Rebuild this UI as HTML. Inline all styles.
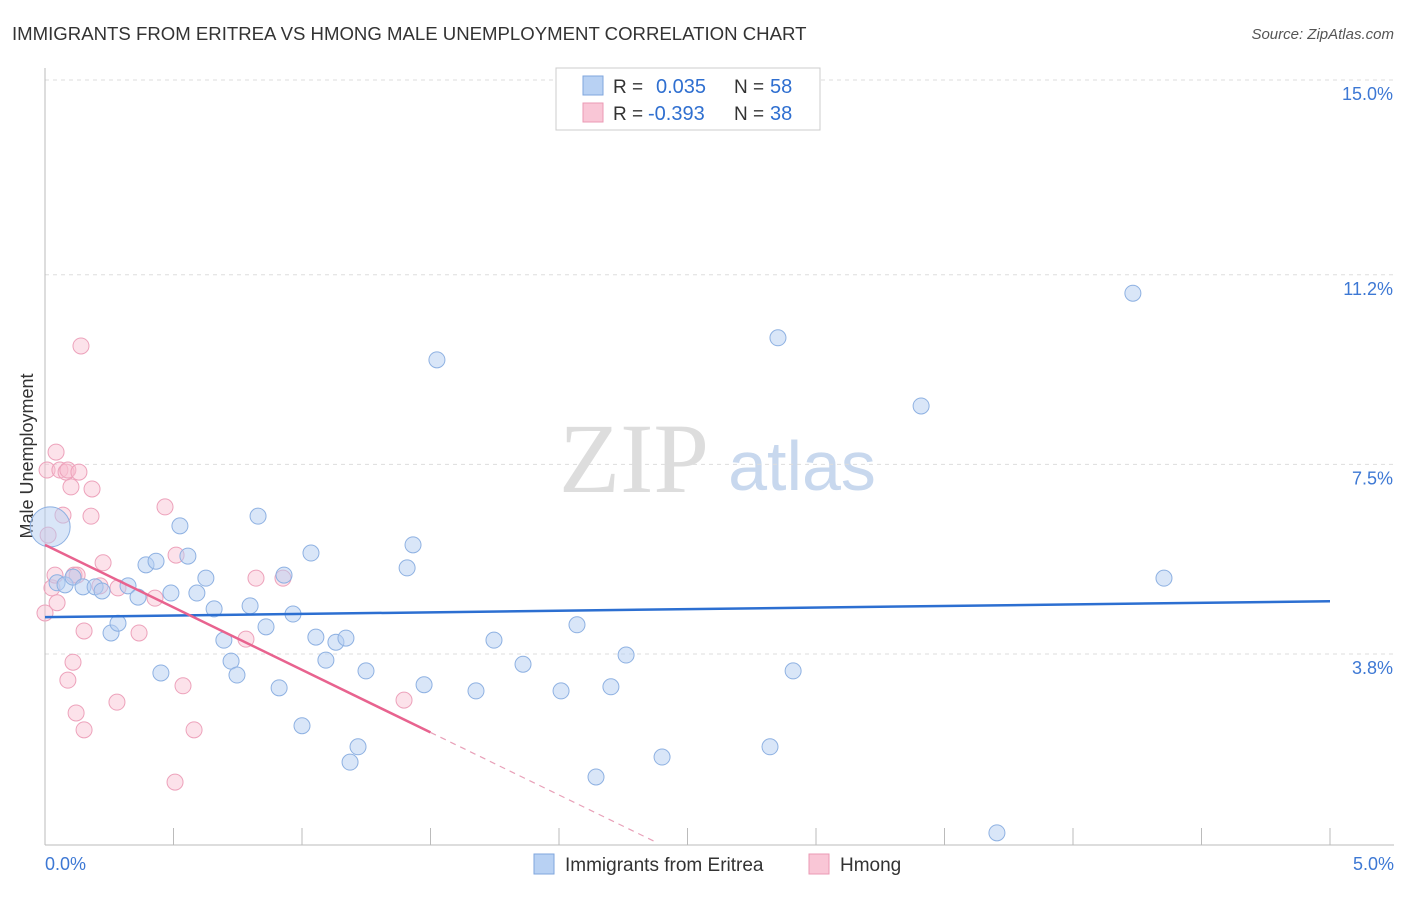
<!DOCTYPE html>
<html><head><meta charset="utf-8">
<style>
body{margin:0;background:#fff;font-family:"Liberation Sans",sans-serif;}
</style></head>
<body>
<svg id="chart" width="1406" height="892" xmlns="http://www.w3.org/2000/svg" style="font-family:'Liberation Sans',sans-serif">
<text x="12" y="40" font-size="18.6" fill="#333">IMMIGRANTS FROM ERITREA VS HMONG MALE UNEMPLOYMENT CORRELATION CHART</text>
<text x="1394" y="39" font-size="15" fill="#555" text-anchor="end" font-style="italic">Source: ZipAtlas.com</text>
<text x="33" y="456" font-size="18" fill="#333" text-anchor="middle" transform="rotate(-90 33 456)">Male Unemployment</text>
<g>
<text x="634" y="492" font-size="100" fill="#ddd" style="font-family:'Liberation Serif',serif" text-anchor="middle">ZIP</text>
<text x="802" y="490" font-size="70" fill="#c8d8ee" text-anchor="middle">atlas</text>
</g>
<g id="grid"></g>
<g id="axes"></g>
<g id="marks"></g>
<g>
<rect x="556" y="68" width="264" height="62" fill="#fff" stroke="#ccc"/>
<rect x="583" y="76" width="20" height="19" fill="#b8d1f3" stroke="#7fa6de"/>
<rect x="583" y="103" width="20" height="19" fill="#f9c6d6" stroke="#eb9ab4"/>
<text x="613" y="93" font-size="19" fill="#333">R = </text><text x="656" y="93" font-size="20" fill="#2f6fd0">0.035</text>
<text x="734" y="93" font-size="19" fill="#333">N = </text><text x="770" y="93" font-size="20" fill="#2f6fd0">58</text>
<text x="613" y="120" font-size="19" fill="#333">R = </text><text x="648" y="120" font-size="20" fill="#2f6fd0">-0.393</text>
<text x="734" y="120" font-size="19" fill="#333">N = </text><text x="770" y="120" font-size="20" fill="#2f6fd0">38</text>
</g>
<g>
<rect x="534" y="854" width="20" height="20" fill="#b8d1f3" stroke="#7fa6de"/>
<text x="565" y="871" font-size="19" fill="#333">Immigrants from Eritrea</text>
<rect x="809" y="854" width="20" height="20" fill="#f9c6d6" stroke="#eb9ab4"/>
<text x="840" y="871" font-size="19" fill="#333">Hmong</text>
</g>
</svg>
<script>
const yTicks=[15.0,11.2,7.5,3.8];
const yTickLabels=["15.0%","11.2%","7.5%","3.8%"];
const xTickLabels=["0.0%","5.0%"];
const blueX=[0.02,0.047,0.078,0.109,0.148,0.195,0.222,0.257,0.284,0.323,0.362,0.393,0.432,0.451,0.49,0.525,0.556,0.591,0.626,0.658,0.696,0.724,0.747,0.798,0.829,0.86,0.911,0.93,0.965,1.0,1.035,1.054,1.093,1.132,1.171,1.187,1.218,1.249,1.409,1.432,1.475,1.525,1.677,1.747,1.86,2.008,2.07,2.144,2.202,2.261,2.401,2.821,2.852,2.911,3.409,3.704,4.233,4.354];
const blueY=[6.28,5.19,5.15,5.30,5.11,5.11,5.03,4.21,4.40,5.13,4.91,5.54,5.61,3.43,4.99,6.30,5.71,4.99,5.28,4.68,4.07,3.66,3.39,4.74,6.49,4.33,3.14,5.34,4.58,2.40,5.77,4.13,3.68,4.03,4.11,1.69,1.99,3.47,5.48,5.93,3.20,9.54,3.08,4.07,3.60,3.08,4.37,1.40,3.16,3.78,1.79,1.99,9.97,3.47,8.64,0.31,10.84,5.28];
const pinkX=[0.008,0.012,0.027,0.039,0.047,0.043,0.058,0.07,0.082,0.089,0.101,0.109,0.113,0.121,0.132,0.14,0.152,0.152,0.183,0.179,0.214,0.226,0.28,0.284,0.366,0.428,0.467,0.51,0.537,0.506,0.58,0.782,0.821,0.926,1.397,0.089,0.125,0.0];
const pinkY=[7.39,6.12,5.09,5.34,4.80,7.74,7.39,6.51,7.35,7.39,7.06,3.64,5.34,2.65,7.35,9.81,4.25,2.32,7.02,6.49,5.13,5.58,2.86,5.09,4.21,4.89,6.67,5.73,3.18,1.30,2.32,4.09,5.28,5.28,2.90,3.29,5.34,4.6];
const blueTrend=[4.52,4.83];
const pinkTrend=[5.93,-2.44];
const X=v=>45+v*257, Y=v=>80+(15-v)*51.25;
const NS="http://www.w3.org/2000/svg";
function mk(tag,attrs,parent){const e=document.createElementNS(NS,tag);for(const k in attrs)e.setAttribute(k,attrs[k]);parent.appendChild(e);return e;}
const grid=document.getElementById('grid'),axes=document.getElementById('axes'),marks=document.getElementById('marks');
yTicks.forEach((t,i)=>{
 const l=mk('line',{x1:45,x2:1394,y1:Y(t),y2:Y(t),stroke:'#ddd','stroke-dasharray':'4,4'},grid);
 
 
 const tx=mk('text',{x:1393,y:Y(t)+20,'font-size':18,fill:'#3d78d4','text-anchor':'end'},axes);
 tx.textContent=yTickLabels[i];
 
 
});
mk('line',{x1:45,x2:45,y1:68,y2:845,stroke:'#bbb'},axes);
mk('line',{x1:45,x2:1394,y1:845,y2:845,stroke:'#bbb'},axes);
for(let i=0;i<=10;i++){const t=mk('line',{x1:X(i*0.5),x2:X(i*0.5),y1:828,y2:845,stroke:'#bbb'},axes);
 
 }
[[0,'start',45],[5,'end',1394]].forEach((d,i)=>{const t=mk('text',{x:d[2],y:870,'font-size':18,fill:'#3d78d4','text-anchor':d[1]},axes);t.textContent=xTickLabels[i];
 
 });
pinkX.forEach((x,i)=>{const c=mk('circle',{cx:X(x),cy:Y(pinkY[i]),r:8,fill:'rgba(248,190,208,0.45)',stroke:'#eda2bb','stroke-width':1},marks);
 
 });
blueX.forEach((x,i)=>{const big=i===0;const c=mk('circle',{cx:X(x),cy:Y(blueY[i]),r:big?20:8,fill:'rgba(180,206,242,0.5)',stroke:'#8eb1e2','stroke-width':1},marks);
 
 });
const bl=mk('line',{x1:X(0),y1:Y(blueTrend[0]),x2:X(5),y2:Y(blueTrend[1]),stroke:'#2c6fd1','stroke-width':2.5},marks);


const pf=x=>pinkTrend[0]+pinkTrend[1]*x;
const pl=mk('line',{x1:X(0),y1:Y(pf(0)),x2:X(1.5),y2:Y(pf(1.5)),stroke:'#e8638f','stroke-width':2.5},marks);


const pd=mk('line',{x1:X(1.5),y1:Y(pf(1.5)),x2:X(2.37),y2:Y(pf(2.37)),stroke:'#e8a0b8','stroke-width':1.2,'stroke-dasharray':'6,5'},marks);


</script>
</body></html>
